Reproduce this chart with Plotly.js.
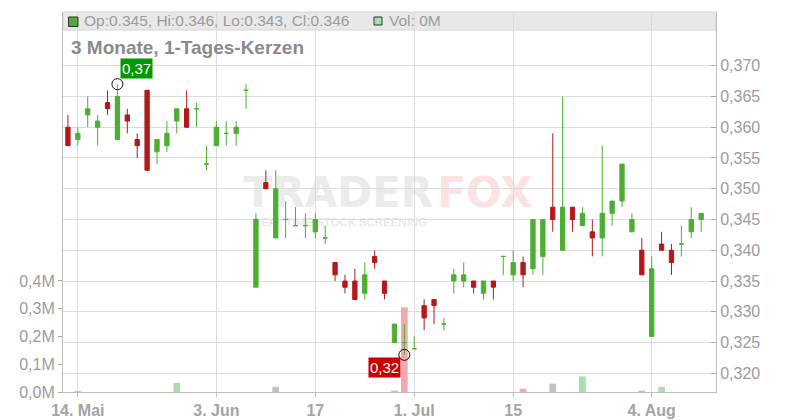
<!DOCTYPE html>
<html><head><meta charset="utf-8">
<script src="https://cdn.plot.ly/plotly-3.0.1.min.js"></script>
<style>html,body{margin:0;padding:0;background:#fff}#chart{width:800px;height:420px}</style>
</head><body><div id="chart"></div>
<script>
// ---- data ----
const dates = ['2025-05-13','2025-05-14','2025-05-15','2025-05-16','2025-05-19','2025-05-20','2025-05-21','2025-05-22','2025-05-23',
 '2025-05-26','2025-05-27','2025-05-28','2025-05-29','2025-05-30','2025-06-02','2025-06-03','2025-06-04','2025-06-05','2025-06-06',
 '2025-06-09','2025-06-10','2025-06-11','2025-06-12','2025-06-13','2025-06-16','2025-06-17','2025-06-18','2025-06-19','2025-06-20',
 '2025-06-23','2025-06-24','2025-06-25','2025-06-26','2025-06-27','2025-06-30','2025-07-01','2025-07-02','2025-07-03','2025-07-04',
 '2025-07-07','2025-07-08','2025-07-09','2025-07-10','2025-07-11','2025-07-14','2025-07-15','2025-07-16','2025-07-17','2025-07-18',
 '2025-07-21','2025-07-22','2025-07-23','2025-07-24','2025-07-25','2025-07-28','2025-07-29','2025-07-30','2025-07-31','2025-08-01',
 '2025-08-04','2025-08-05','2025-08-06','2025-08-07','2025-08-08','2025-08-11'];
const opens  = [0.360,0.358,0.362,0.360,0.364,0.358,0.362,0.358,0.366,0.356,0.357,0.361,0.363,0.363,0.354,0.357,0.359,0.359,0.366,
 0.334,0.351,0.342,0.345,0.344,0.344,0.343,0.342,0.338,0.335,0.335,0.333,0.339,0.335,0.325,0.325,0.324,0.331,0.332,0.328,
 0.335,0.335,0.335,0.333,0.335,0.339,0.336,0.338,0.337,0.339,0.347,0.340,0.347,0.344,0.343,0.342,0.346,0.348,0.343,0.340,
 0.326,0.341,0.340,0.341,0.343,0.345];
const highs  = [0.362,0.360,0.365,0.362,0.366,0.367,0.363,0.359,0.366,0.358,0.361,0.363,0.366,0.364,0.357,0.361,0.361,0.361,0.367,
 0.346,0.353,0.353,0.348,0.347,0.346,0.346,0.344,0.338,0.336,0.337,0.338,0.340,0.335,0.328,0.328,0.326,0.332,0.332,0.329,
 0.337,0.338,0.335,0.335,0.335,0.339,0.340,0.339,0.345,0.345,0.359,0.365,0.347,0.347,0.345,0.357,0.348,0.354,0.346,0.342,
 0.339,0.343,0.341,0.344,0.347,0.346];
const lows   = [0.357,0.357,0.360,0.357,0.362,0.358,0.359,0.355,0.353,0.354,0.356,0.359,0.360,0.360,0.353,0.357,0.357,0.357,0.363,
 0.334,0.350,0.342,0.342,0.344,0.342,0.342,0.341,0.335,0.333,0.332,0.332,0.337,0.332,0.325,0.323,0.324,0.327,0.328,0.327,
 0.333,0.334,0.333,0.332,0.332,0.336,0.335,0.334,0.336,0.336,0.343,0.340,0.343,0.344,0.339,0.339,0.344,0.347,0.343,0.336,
 0.326,0.340,0.336,0.339,0.342,0.343];
const closes = [0.357,0.359,0.363,0.361,0.363,0.365,0.361,0.357,0.353,0.358,0.359,0.363,0.360,0.363,0.354,0.360,0.359,0.360,0.366,
 0.345,0.350,0.350,0.345,0.344,0.344,0.345,0.342,0.336,0.334,0.332,0.336,0.338,0.333,0.328,0.325,0.324,0.329,0.331,0.328,
 0.336,0.336,0.334,0.335,0.334,0.339,0.338,0.336,0.345,0.345,0.345,0.347,0.345,0.346,0.342,0.346,0.348,0.354,0.345,0.336,
 0.337,0.340,0.338,0.341,0.345,0.346];
const volumes = [0,4000,0,0,0,0,0,0,0,0,0,33000,0,0,0,0,0,0,0,
 0,0,19000,0,0,0,0,0,0,0,0,0,0,0,5000,305000,0,0,0,0,
 0,0,0,0,0,0,0,12000,0,0,30000,0,0,56000,0,0,0,0,0,5000,
 0,19000,0,0,0,0];
const xTickVals = ['2025-05-14','2025-06-03','2025-06-17','2025-07-01','2025-07-15','2025-08-04'];
const xTickText = ['14. Mai','3. Jun','17','1. Jul','15','4. Aug'];
const priceTickVals = [0.320,0.325,0.330,0.335,0.340,0.345,0.350,0.355,0.360,0.365,0.370];
const volTickVals = [0,100000,200000,300000,400000];
const volTickText = ['0,0M','0,1M','0,2M','0,3M','0,4M'];
const chartTitle = '3 Monate, 1-Tages-Kerzen';

// ---- styling ----
const FONT = 'Liberation Sans, Arial, sans-serif';
const GREEN = '#4cae33', RED = '#b3181b';
const VOL_UP = '#abdcab', VOL_DOWN = '#f0a9b1', VOL_FLAT = '#c2c2c2';
const TXT = '#9c9c9c';

const volColors = volumes.map((v,i)=> i===0 ? VOL_FLAT : (closes[i]>closes[i-1] ? VOL_UP : (closes[i]<closes[i-1] ? VOL_DOWN : VOL_FLAT)));

const upIdx = [], downIdx = [];
dates.forEach((d,i)=> (closes[i] >= opens[i] ? upIdx : downIdx).push(i));
const pick = (arr, idx) => idx.map(i=>arr[i]);
function candle(idx, color){
  return {type:'candlestick', x:pick(dates,idx), open:pick(opens,idx), high:pick(highs,idx), low:pick(lows,idx), close:pick(closes,idx),
    xaxis:'x', yaxis:'y2', whiskerwidth:0, hoverinfo:'skip',
    increasing:{line:{color:color,width:1}, fillcolor:color},
    decreasing:{line:{color:color,width:1}, fillcolor:color}};
}

let maxI = 0, minI = 0;
highs.forEach((h,i)=>{ if (h > highs[maxI]) maxI = i; });
lows.forEach((l,i)=>{ if (l < lows[minI]) minI = i; });
const fmt2 = v => v.toFixed(2).replace('.', ',');
const last = dates.length - 1;

const traces = [
  {type:'bar', x:dates, y:volumes, xaxis:'x', yaxis:'y', marker:{color:volColors, line:{width:0}}, width:0.68, hoverinfo:'skip'},
  candle(upIdx, GREEN),
  candle(downIdx, RED),
  {type:'scatter', mode:'markers', x:[dates[maxI], dates[minI]], y:[highs[maxI], lows[minI]], xaxis:'x', yaxis:'y2',
   marker:{symbol:'circle-open', size:11, color:'#111', line:{width:1}}, hoverinfo:'skip'}
];

const px = p => (p-63)/653, py = p => (392-p)/380;

const layout = {
  width:800, height:420,
  margin:{l:63, r:84, t:12, b:28},
  paper_bgcolor:'#fff', plot_bgcolor:'#fff',
  showlegend:false, bargap:0.32, boxgap:0.38,
  font:{family:FONT, color:TXT},
  title:{text:chartTitle, xref:'container', x:71/800, xanchor:'left', y:1-47.5/420, yanchor:'middle',
         font:{family:FONT, size:19, color:'#8a8a8a', weight:'bold'}},
  xaxis:{type:'category', categoryorder:'array', categoryarray:dates, range:[-0.5, 65.5],
    rangeslider:{visible:false}, tickvals:xTickVals, ticktext:xTickText,
    showgrid:true, gridcolor:'#dcdcdc', gridwidth:1,
    showline:true, linecolor:'#bdbdbd', linewidth:1,
    ticks:'outside', ticklen:4, tickcolor:'#bdbdbd',
    tickfont:{family:FONT, size:16, color:'#a4a4a4', weight:'bold'}, fixedrange:true},
  yaxis:{side:'left', range:[0, 1369000], tickvals:volTickVals, ticktext:volTickText,
    showgrid:false, zeroline:false, showline:true, linecolor:'#bdbdbd', linewidth:1,
    ticks:'outside', ticklen:4, tickcolor:'#aaaaaa',
    tickfont:{family:FONT, size:16, color:TXT}, fixedrange:true},
  yaxis2:{overlaying:'y', side:'right', range:[0.31696, 0.37873], tickvals:priceTickVals, tickformat:'.3f',
    showgrid:true, gridcolor:'#dcdcdc', gridwidth:1, zeroline:false,
    showline:true, linecolor:'#bdbdbd', linewidth:1,
    ticks:'inside', ticklen:5, tickcolor:'#aaaaaa',
    tickfont:{family:FONT, size:16, color:TXT}, fixedrange:true},
  separators:',.',
  shapes:[
    {type:'rect', xref:'paper', yref:'paper', x0:0, x1:1, y0:py(30), y1:1, fillcolor:'#e8e8e8', line:{color:'#d6d6d6', width:1}, layer:'below'},
    {type:'rect', xref:'paper', yref:'paper', x0:px(68.5), x1:px(78), y0:py(26.5), y1:py(17), fillcolor:GREEN, line:{color:'#333', width:1}, layer:'above'},
    {type:'rect', xref:'paper', yref:'paper', x0:px(374), x1:px(382), y0:py(25), y1:py(17), fillcolor:VOL_UP, line:{color:'#333', width:1}, layer:'above'},
    {type:'rect', xref:'paper', yref:'paper', x0:px(240), x1:px(437), y0:py(205), y1:py(173), line:{width:0}, fillcolor:'rgba(0,0,0,0)', layer:'below',
     label:{text:'TRADER', textposition:'middle center', padding:0, font:{family:'DejaVu Sans, sans-serif', size:42, color:'#ebebeb', weight:'bold'}}},
    {type:'rect', xref:'paper', yref:'paper', x0:px(437), x1:px(533), y0:py(205), y1:py(173), line:{width:0}, fillcolor:'rgba(0,0,0,0)', layer:'below',
     label:{text:'FOX', textposition:'middle center', padding:0, font:{family:'DejaVu Sans, sans-serif', size:42, color:'#fde2e4', weight:'bold'}}},
    {type:'rect', xref:'paper', yref:'paper', x0:px(250), x1:px(430), y0:py(225), y1:py(215), line:{width:0}, fillcolor:'rgba(0,0,0,0)', layer:'below',
     label:{text:'REAL TIME STOCK SCREENING', textposition:'middle center', padding:0, font:{family:FONT, size:11.5, color:'#e2e2e2'}}}
  ],
  annotations:[
    {xref:'paper', yref:'paper', x:px(82), y:py(21), xanchor:'left', yanchor:'middle', showarrow:false,
     text:`Op:${opens[last].toFixed(3)}, Hi:${highs[last].toFixed(3)}, Lo:${lows[last].toFixed(3)}, Cl:${closes[last].toFixed(3)}`,
     font:{family:FONT, size:15.5, color:TXT}},
    {xref:'paper', yref:'paper', x:px(387), y:py(21), xanchor:'left', yanchor:'middle', showarrow:false,
     text:`Vol: ${(volumes[last]/1e6).toFixed(0)}M`, font:{family:FONT, size:15.5, color:TXT}},
    {xref:'x', yref:'y2', x:dates[maxI], y:highs[maxI], xshift:19, yshift:16, showarrow:false,
     text:fmt2(highs[maxI]), bgcolor:'#009900', borderpad:1, font:{family:FONT, size:15, color:'#fff'}},
    {xref:'x', yref:'y2', x:dates[minI], y:lows[minI], xshift:-20, yshift:-13, showarrow:false,
     text:fmt2(lows[minI]), bgcolor:'#cc0000', borderpad:1, font:{family:FONT, size:15, color:'#fff'}}
  ]
};

Plotly.newPlot('chart', traces, layout, {staticPlot:true, displayModeBar:false});
</script>
</body></html>
